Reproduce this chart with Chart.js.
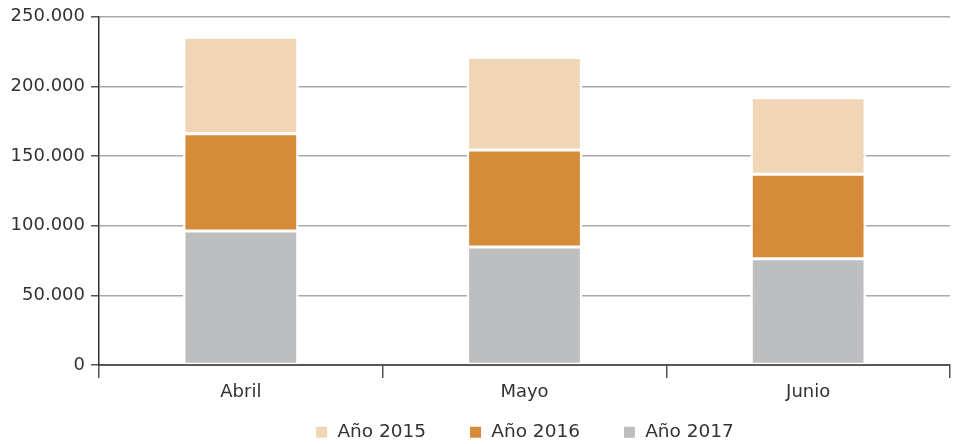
<!doctype html>
<html>
  <head>
    <meta charset="UTF-8">
    <title>Meses</title>
    <script src="https://cdn.jsdelivr.net/npm/chart.js@4/dist/chart.umd.min.js"></script>
    <style>
      body { margin: 0; background: #fff; }
      #wrap { width: 954px; height: 444px; }
    </style>
  </head>
  <body>
    <div id="wrap"><canvas id="chart"></canvas></div>
    <script>
      var months = ['Abril', 'Mayo', 'Junio']
      var y2015 = [69300, 66400, 54800]
      var y2016 = [69900, 69500, 60800]
      var y2017 = [96200, 84800, 76200]
      var yTicks = [0, 50000, 100000, 150000, 200000, 250000]

      var txt = '#333333'
      var font = { family: 'DejaVu Sans', size: 18 }

      function fmt(v) {
        return String(v).replace(/\B(?=(\d{3})+(?!\d))/g, '.')
      }

      var border = { left: 2.5, right: 2.5, top: 1.5, bottom: 1.5 }
      function ds(label, data, color) {
        return {
          label: label,
          data: data,
          backgroundColor: color,
          borderColor: '#ffffff',
          borderWidth: border,
          borderSkipped: false
        }
      }

      // wide item spacing needs a big padding, so shrink the legend box and pull it up
      var legendBox = {
        id: 'legendBox',
        afterInit: function (chart) {
          var lg = chart.legend
          var fit = lg.fit
          lg.fit = function () {
            fit.apply(this, arguments)
            this.height = 35
          }
          lg.draw = function () {
            this.ctx.save()
            this.ctx.translate(0, -29)
            this._draw()
            this.ctx.restore()
          }
        }
      }

      new Chart(document.getElementById('chart'), {
        type: 'bar',
        data: {
          labels: months,
          // bottom-up: 2017, 2016, 2015
          datasets: [
            ds('Año 2017', y2017, '#bdbec0'),
            ds('Año 2016', y2016, '#d68b38'),
            ds('Año 2015', y2015, '#f0d5b6')
          ]
        },
        plugins: [legendBox],
        options: {
          responsive: true,
          maintainAspectRatio: false,
          animation: false,
          events: [],
          categoryPercentage: 1,
          barPercentage: 0.408,
          layout: { padding: { top: 5, right: 4, left: 0, bottom: 0 } },
          scales: {
            x: {
              stacked: true,
              border: { color: '#555555', width: 2 },
              grid: { offset: true, drawOnChartArea: false, tickLength: 13, color: '#555555', lineWidth: 1.5 },
              ticks: { color: txt, font: font, padding: 4 },
              afterFit: function (s) { s.height = 44 }
            },
            y: {
              stacked: true,
              min: 0,
              max: 250000,
              afterBuildTicks: function (s) { s.ticks = yTicks.map(function (v) { return { value: v } }) },
              border: { color: '#333333', width: 1.5 },
              grid: { color: '#a9a9ab', lineWidth: 1.5, tickLength: 8, tickColor: '#555555' },
              ticks: { color: txt, font: font, padding: 6, callback: function (v) { return fmt(v) } },
              afterFit: function (s) { s.width = 99 }
            }
          },
          plugins: {
            tooltip: { enabled: false },
            legend: {
              position: 'bottom',
              fullSize: false,
              reverse: true,
              labels: {
                color: txt,
                font: { family: 'DejaVu Sans', size: 18.5 },
                boxWidth: 13,
                boxHeight: 13,
                padding: 43
              }
            }
          }
        }
      })
    </script>
  </body>
</html>
